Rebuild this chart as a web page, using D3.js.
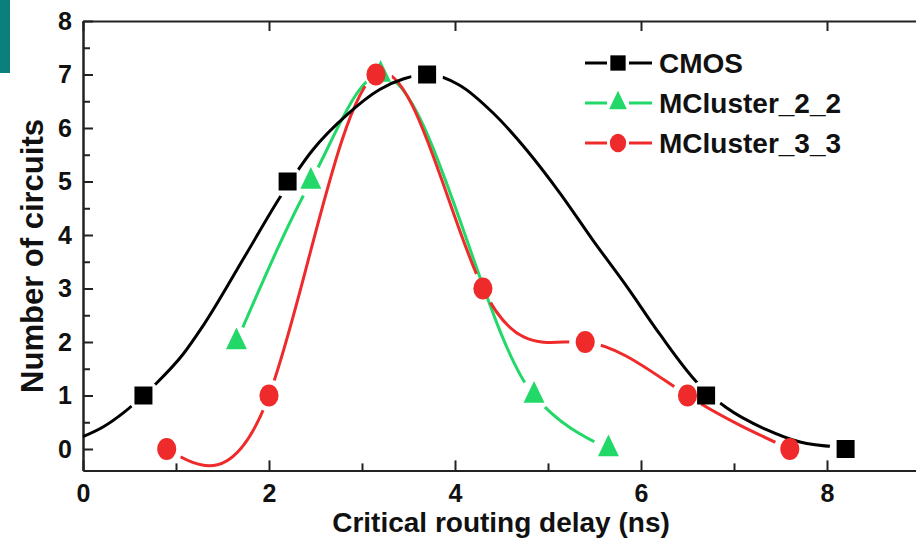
<!DOCTYPE html>
<html>
<head>
<meta charset="utf-8">
<script src="https://cdn.jsdelivr.net/npm/d3@7"></script>
<style>
  body { margin: 0; background: #fff; }
  svg { display: block; }
  text { font-family: "Liberation Sans", Arial, sans-serif; font-weight: bold; fill: #111; }
</style>
</head>
<body>
<div id="chart"></div>
<script>
// markers
var cmosX = [0.65, 2.2, 3.7, 6.7, 8.2]
var cmosY = [1, 5, 7, 1, 0]
var m22X = [1.65, 2.45, 3.2, 4.85, 5.65]
var m22Y = [2, 5, 7, 1, 0]
var m33X = [0.9, 2.0, 3.15, 4.3, 5.4, 6.5, 7.6]
var m33Y = [0, 1, 7, 3, 2, 1, 0]

// smooth CMOS curve
var cmosFitX = [0, 0.215, 0.43, 0.65, 0.79, 1.08, 1.29, 1.76, 2.12, 2.47, 2.84, 3.19, 3.45, 3.7, 4.05, 4.41, 4.77, 5.13, 5.48, 5.85, 6.2, 6.61, 6.92, 7.35, 7.71, 8.1]
var cmosFitY = [0.23, 0.41, 0.67, 1.0, 1.23, 1.78, 2.3, 3.66, 4.71, 5.59, 6.25, 6.72, 6.92, 7.0, 6.8, 6.28, 5.59, 4.78, 3.91, 3.03, 2.15, 1.23, 0.77, 0.36, 0.13, 0.04]

var xTicks = [0, 2, 4, 6, 8]
var xMinor = [1, 3, 5, 7, 9]
var yTicks = [0, 1, 2, 3, 4, 5, 6, 7, 8]
var yMinor = [0.5, 1.5, 2.5, 3.5, 4.5, 5.5, 6.5, 7.5]

var names = ["CMOS", "MCluster_2_2", "MCluster_3_3"]
var colors = ["#000000", "#22d868", "#ee2a2a"]

var W = 916, H = 551
var x = d3.scaleLinear().domain([0, 10]).range([83, 1013])
var y = d3.scaleLinear().domain([-0.4, 8]).range([470.4, 21])

var svg = d3.select("#chart").append("svg")
    .attr("width", W)
    .attr("height", H)

// teal block cut off at the top-left corner
svg.append("rect").attr("x", 0).attr("y", 0).attr("width", 10).attr("height", 73).attr("fill", "#0a7f7c")

// axes
function styleAxis(g) {
  g.selectAll("path.domain").attr("stroke", "#222").attr("stroke-width", 2)
  g.selectAll(".tick line").attr("stroke", "#222").attr("stroke-width", 2)
  g.selectAll("text").attr("font-size", 25).attr("fill", "#111")
    .style("font-family", "'Liberation Sans', Arial, sans-serif")
    .style("font-weight", "bold")
}

svg.append("g").attr("transform", "translate(0," + y(-0.4) + ")")
  .call(d3.axisBottom(x).tickValues(xTicks).tickFormat(d3.format("d")).tickSizeInner(-10).tickSizeOuter(0).tickPadding(14))
  .call(styleAxis)
svg.append("g").attr("transform", "translate(0," + y(-0.4) + ")")
  .call(d3.axisBottom(x).tickValues(xMinor).tickFormat("").tickSizeInner(-7).tickSizeOuter(0))
  .call(styleAxis)
svg.append("g").attr("transform", "translate(0," + y(8) + ")")
  .call(d3.axisTop(x).tickValues(xTicks).tickFormat("").tickSizeInner(-10).tickSizeOuter(0))
  .call(styleAxis)
svg.append("g").attr("transform", "translate(" + x(0) + ",0)")
  .call(d3.axisLeft(y).tickValues(yTicks).tickFormat(d3.format("d")).tickSizeInner(-10).tickSizeOuter(0).tickPadding(11))
  .call(styleAxis)
svg.append("g").attr("transform", "translate(" + x(0) + ",0)")
  .call(d3.axisLeft(y).tickValues(yMinor).tickFormat("").tickSizeInner(-7).tickSizeOuter(0))
  .call(styleAxis)

// titles
svg.append("text")
  .attr("x", 501).attr("y", 532)
  .attr("text-anchor", "middle")
  .attr("font-size", 28)
  .text("Critical routing delay (ns)")
svg.append("text")
  .attr("transform", "translate(43,256) rotate(-90)")
  .attr("text-anchor", "middle")
  .attr("font-size", 31)
  .text("Number of circuits")

// series: each line gets a mask that opens a small gap round its own markers
var series = [
  { lx: cmosFitX, ly: cmosFitY, mx: cmosX, my: cmosY, sym: d3.symbolSquare, size: 324, sx: 1, sy: 1, curve: d3.curveMonotoneX },
  { lx: m22X, ly: m22Y, mx: m22X, my: m22Y, sym: d3.symbolTriangle, size: 190, sx: 1, sy: 1.2, curve: d3.curveMonotoneX },
  { lx: m33X, ly: m33Y, mx: m33X, my: m33Y, sym: d3.symbolCircle, size: 340, sx: 0.92, sy: 1.05, curve: d3.curveNatural }
]

var defs = svg.append("defs")
series.forEach(function(s, i) {
  var m = defs.append("mask").attr("id", "gap" + i).attr("maskUnits", "userSpaceOnUse")
    .attr("x", 0).attr("y", 0).attr("width", W).attr("height", H)
  m.append("rect").attr("width", W).attr("height", H).attr("fill", "white")
  m.selectAll("circle").data(s.mx).enter().append("circle")
    .attr("cx", function(d) { return x(d) })
    .attr("cy", function(d, j) { return y(s.my[j]) })
    .attr("r", 16)
    .attr("fill", "black")
})

// draw green, red, then black, as in the original stacking
var order = [1, 2, 0]
order.forEach(function(i) {
  var s = series[i]
  var pts = s.lx.map(function(d, j) { return [d, s.ly[j]] })
  svg.append("path")
    .datum(pts)
    .attr("mask", "url(#gap" + i + ")")
    .attr("fill", "none")
    .attr("stroke", colors[i])
    .attr("stroke-width", 3)
    .attr("d", d3.line().x(function(d) { return x(d[0]) }).y(function(d) { return y(d[1]) }).curve(s.curve))
})
order.forEach(function(i) {
  var s = series[i]
  svg.append("g").selectAll("path")
    .data(s.mx.map(function(d, j) { return [d, s.my[j]] }))
    .enter().append("path")
      .attr("transform", function(d) { return "translate(" + x(d[0]) + "," + y(d[1]) + ") scale(" + s.sx + "," + s.sy + ")" })
      .attr("d", d3.symbol().type(s.sym).size(s.size))
      .attr("fill", colors[i])
})

// legend
var leg = svg.append("g")
names.forEach(function(n, i) {
  var s = series[i]
  var ly = 63 + i * 40
  leg.append("line").attr("x1", 585).attr("x2", 607).attr("y1", ly).attr("y2", ly).attr("stroke", colors[i]).attr("stroke-width", 3)
  leg.append("line").attr("x1", 629).attr("x2", 652).attr("y1", ly).attr("y2", ly).attr("stroke", colors[i]).attr("stroke-width", 3)
  leg.append("path")
    .attr("transform", "translate(618," + ly + ") scale(" + s.sx * 0.85 + "," + s.sy * 0.85 + ")")
    .attr("d", d3.symbol().type(s.sym).size(s.size))
    .attr("fill", colors[i])
  leg.append("text").attr("x", 659).attr("y", ly + 10).attr("font-size", 28).text(n)
})
</script>
</body>
</html>
